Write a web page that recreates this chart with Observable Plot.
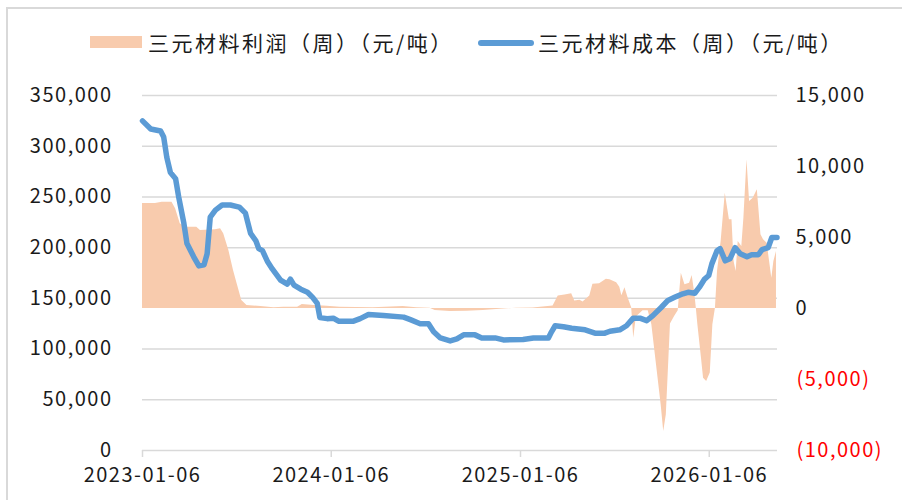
<!DOCTYPE html>
<html><head><meta charset="utf-8">
<script src="https://cdn.jsdelivr.net/npm/d3@7"></script>
<script src="https://cdn.jsdelivr.net/npm/@observablehq/plot@0.6"></script>
<style>
html,body{margin:0;padding:0;background:#fff;}
#wrap{position:relative;width:902px;height:500px;overflow:hidden;font-family:"Noto Sans CJK SC","Noto Sans",sans-serif;}
#frame{position:absolute;left:6px;top:7px;width:1000px;height:1000px;border-left:2px solid #d9d9d9;border-top:2px solid #d9d9d9;pointer-events:none;}
#legend{position:relative;height:70px;}
.lt{position:absolute;top:28px;font-size:21px;line-height:28px;letter-spacing:2.5px;color:#1a1a1a;white-space:nowrap;}
#sw1{position:absolute;left:90px;top:36px;width:52px;height:12px;background:#f8cbad;}
#sw2{position:absolute;left:478px;top:40px;width:56px;height:6px;border-radius:3px;background:#5b9bd5;}
svg{display:block;}
svg text{letter-spacing:1.5px;}
</style></head>
<body><div id="wrap">
<div id="legend">
<div id="sw1"></div><div class="lt" style="left:148px">三元材料利润（周）（元/吨）</div>
<div id="sw2"></div><div class="lt" style="left:538px">三元材料成本（周）（元/吨）</div>
</div>
<div id="chart"></div>
<div id="frame"></div>
</div>
<script>
const costDates = ["2023-01-06","2023-01-22","2023-02-10","2023-02-16","2023-02-22","2023-03-01","2023-03-11","2023-03-17","2023-03-27","2023-04-02","2023-04-15","2023-04-25","2023-05-05","2023-05-11","2023-05-17","2023-05-27","2023-06-09","2023-06-25","2023-07-12","2023-07-24","2023-08-03","2023-08-13","2023-08-19","2023-08-26","2023-09-05","2023-09-14","2023-09-30","2023-10-13","2023-10-19","2023-10-26","2023-11-08","2023-11-21","2023-12-01","2023-12-10","2023-12-15","2023-12-29","2024-01-10","2024-01-20","2024-02-18","2024-03-02","2024-03-18","2024-04-16","2024-05-25","2024-06-07","2024-06-26","2024-07-12","2024-07-22","2024-08-04","2024-08-23","2024-09-05","2024-09-18","2024-10-10","2024-10-23","2024-11-18","2024-12-04","2025-01-11","2025-01-31","2025-03-01","2025-03-07","2025-03-14","2025-03-30","2025-04-15","2025-05-11","2025-05-30","2025-06-18","2025-06-28","2025-07-17","2025-07-30","2025-08-12","2025-08-25","2025-09-07","2025-09-19","2025-10-05","2025-10-18","2025-10-31","2025-11-16","2025-11-26","2025-12-09","2025-12-18","2025-12-28","2026-01-05","2026-01-11","2026-01-21","2026-01-27","2026-02-06","2026-02-15","2026-02-25","2026-03-07","2026-03-20","2026-03-29","2026-04-11","2026-04-18","2026-04-30","2026-05-07","2026-05-17"];
const costValues = [325000,317000,315000,309000,289000,274000,268000,250000,224000,204000,191000,182000,183000,194000,230000,237000,242000,242000,240000,234000,214000,207000,199000,197000,186000,179000,168000,164000,169000,163000,159000,156000,151000,145000,131000,130000,130500,127500,127500,130000,134000,133000,131500,129000,125000,125000,117000,111000,108000,110000,114000,114000,111000,111000,109000,109500,111000,111000,117000,123000,122000,120500,119000,115700,115700,117600,119000,123000,130500,130500,128000,133000,141000,148000,151000,154500,156000,155000,161000,169000,172500,184000,197000,199000,187000,189000,200000,194000,191000,193000,193000,198000,200000,210000,210000];

const profitDates = ["2023-01-06","2023-01-31","2023-02-13","2023-03-04","2023-03-11","2023-03-20","2023-03-30","2023-04-21","2023-04-28","2023-05-27","2023-06-06","2023-06-12","2023-06-22","2023-07-01","2023-07-08","2023-07-17","2023-07-27","2023-08-23","2023-09-17","2023-10-06","2023-11-02","2023-11-11","2023-12-04","2023-12-29","2024-01-23","2024-03-27","2024-05-24","2024-06-19","2024-07-15","2024-07-25","2024-08-23","2024-09-24","2024-10-26","2024-11-27","2024-12-29","2025-01-30","2025-03-10","2025-03-20","2025-04-02","2025-04-15","2025-04-21","2025-05-01","2025-05-07","2025-05-20","2025-05-26","2025-06-08","2025-06-21","2025-06-28","2025-07-11","2025-07-17","2025-07-21","2025-07-27","2025-08-02","2025-08-09","2025-08-13","2025-08-18","2025-08-31","2025-09-10","2025-09-17","2025-09-26","2025-10-05","2025-10-10","2025-10-15","2025-10-20","2025-10-23","2025-10-31","2025-11-07","2025-11-10","2025-11-13","2025-11-20","2025-11-29","2025-12-04","2025-12-09","2025-12-12","2025-12-15","2025-12-22","2025-12-26","2026-01-01","2026-01-08","2026-01-13","2026-01-18","2026-01-22","2026-01-29","2026-02-06","2026-02-14","2026-02-19","2026-02-23","2026-02-27","2026-03-03","2026-03-10","2026-03-14","2026-03-20","2026-03-25","2026-04-01","2026-04-09","2026-04-16","2026-04-21","2026-04-28","2026-05-07","2026-05-11","2026-05-16"];
const profitValues = [7400,7400,7480,7480,7020,5960,5720,5720,5490,5540,5610,5260,4080,2680,1740,560,210,140,50,90,90,280,210,160,90,50,140,50,20,-140,-210,-190,-140,-50,20,40,180,880,950,1040,530,580,460,880,1700,1750,2060,2020,1820,1500,900,1460,760,60,-2090,-600,-160,-160,-1150,-3960,-6780,-8660,-7480,-3500,-1100,-560,-160,1200,2490,1670,1780,2320,1080,20,-1150,-3500,-4910,-5140,-4550,-1150,20,2600,4720,8120,6250,6250,3310,2600,4720,4370,6360,10470,7530,7770,8360,5190,4840,4600,2130,3310,4010];

const leftTicks = [0,50000,100000,150000,200000,250000,300000,350000];
const rightTicks = [-10000,-5000,0,5000,10000,15000];
const rightLabels = ["(10,000)","(5,000)","0","5,000","10,000","15,000"];
const xTickDates = ["2023-01-06","2024-01-06","2025-01-06","2026-01-06"];

// right axis value -> left axis coordinate (0 on right = 140,000 on left; 15,000 = 350,000)
const toLeft = v => 140000 + v * 14;

const cost = costDates.map((d, i) => ({date: new Date(d), v: costValues[i]}));
const profit = profitDates.map((d, i) => ({date: new Date(d), v: profitValues[i]}));
const rt = rightTicks.map((v, i) => ({pos: toLeft(v), label: rightLabels[i], neg: v < 0}));
const font = '"Noto Sans CJK SC","Noto Sans",sans-serif';

const chart = Plot.plot({
  width: 902, height: 430,
  marginLeft: 142, marginRight: 125, marginTop: 25, marginBottom: 50,
  style: {fontFamily: font, fontSize: "20px", color: "#1a1a1a", background: "transparent"},
  x: {type: "utc", domain: [new Date("2023-01-06"), new Date("2026-05-18")]},
  y: {domain: [0, 350000]},
  marks: [
    Plot.ruleY(leftTicks, {stroke: "#d9d9d9", strokeWidth: 1.5}),
    Plot.areaY(profit, {x: "date", y1: () => 140000, y2: d => toLeft(d.v), fill: "#f8cbad"}),
    Plot.line(cost, {x: "date", y: "v", stroke: "#5b9bd5", strokeWidth: 5.5, strokeLinejoin: "round", strokeLinecap: "round"}),
    Plot.axisY(leftTicks, {anchor: "left", label: null, tickSize: 0, tickPadding: 30, tickFormat: d3.format(","), fontSize: 20, fill: "#1a1a1a"}),
    Plot.axisY(rt.filter(d => !d.neg).map(d => d.pos), {anchor: "right", label: null, tickSize: 0, tickPadding: 18, fontSize: 20, fill: "#1a1a1a",
      tickFormat: p => rt.find(d => d.pos === p).label}),
    Plot.axisY(rt.filter(d => d.neg).map(d => d.pos), {anchor: "right", label: null, tickSize: 0, tickPadding: 19, fontSize: 20, fill: "#ff0000",
      tickFormat: p => rt.find(d => d.pos === p).label}),
    Plot.axisX(xTickDates.map(d => new Date(d)), {label: null, tickSize: 7, tickPadding: 10, stroke: "#d9d9d9", strokeWidth: 1.5, fontSize: 20, fill: "#1a1a1a",
      tickFormat: d3.utcFormat("%Y-%m-%d")})
  ]
});
document.getElementById("chart").appendChild(chart);
</script>
</body></html>
